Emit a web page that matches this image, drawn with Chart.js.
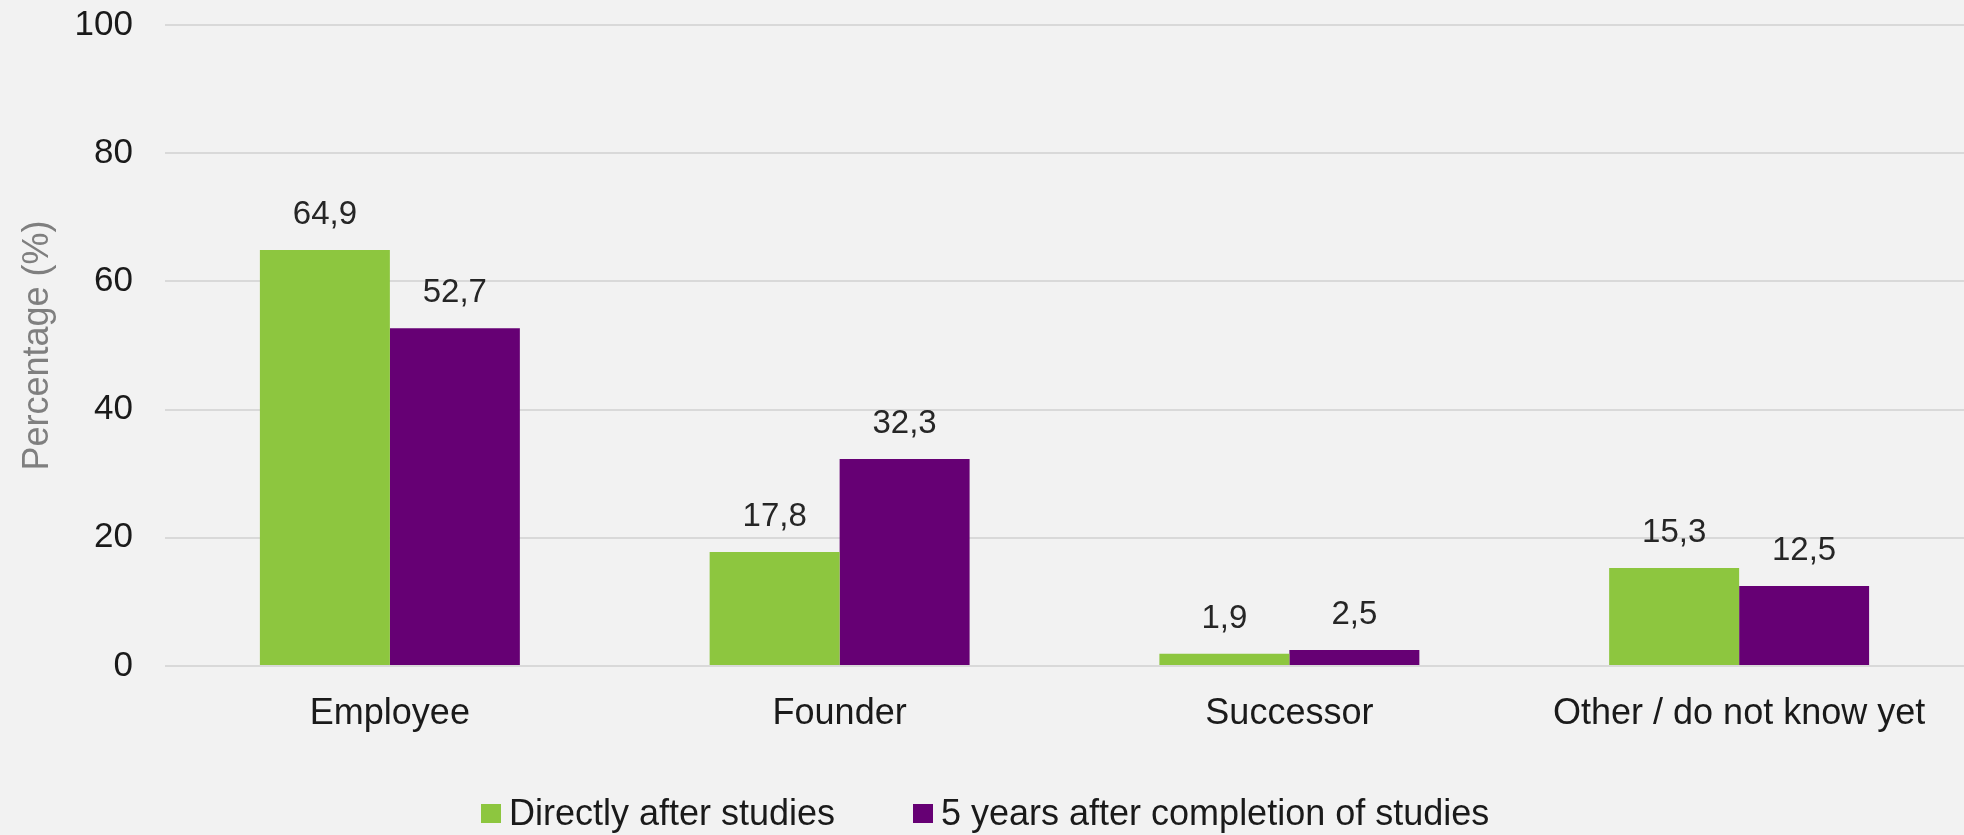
<!DOCTYPE html>
<html>
<head>
<meta charset="utf-8">
<script src="https://cdn.jsdelivr.net/npm/chart.js@4/dist/chart.umd.min.js"></script>
<style>
  html, body { margin: 0; padding: 0; background: #f2f2f2; }
  #wrap { width: 1964px; height: 835px; position: relative; }
</style>
</head>
<body>
<div id="wrap"><canvas id="c" width="1964" height="835"></canvas></div>
<script>
const categories = ["Employee", "Founder", "Successor", "Other / do not know yet"];
const seriesNames = ["Directly after studies", "5 years after completion of studies"];
const directlyAfter = [64.9, 17.8, 1.9, 15.3];
const fiveYearsAfter = [52.7, 32.3, 2.5, 12.5];
const yTicks = [0, 20, 40, 60, 80, 100];

const FONT = "'Liberation Sans', Arial, sans-serif";
const colors = ["#8dc63f", "#660074"];

const dataLabels = {
  id: 'dataLabels',
  afterDatasetsDraw(chart) {
    const ctx = chart.ctx;
    ctx.save();
    ctx.font = "33px " + FONT;
    ctx.fillStyle = "#262626";
    ctx.textAlign = "center";
    ctx.textBaseline = "alphabetic";
    chart.data.datasets.forEach((ds, i) => {
      const meta = chart.getDatasetMeta(i);
      meta.data.forEach((bar, j) => {
        const v = ds.data[j];
        ctx.fillText(v.toFixed(1).replace('.', ','), bar.x, bar.y - 26);
      });
    });
    ctx.restore();
  }
};

const customLegend = {
  id: 'customLegend',
  afterDraw(chart) {
    const ctx = chart.ctx;
    ctx.save();
    ctx.font = "36px " + FONT;
    ctx.textBaseline = "alphabetic";
    ctx.textAlign = "left";
    const boxX = [481, 913];
    chart.data.datasets.forEach((ds, i) => {
      ctx.fillStyle = ds.backgroundColor;
      ctx.fillRect(boxX[i], 804, 20, 19);
      ctx.fillStyle = "#1a1a1a";
      ctx.fillText(ds.label, boxX[i] + 28, 825);
    });
    ctx.restore();
  }
};

new Chart(document.getElementById('c'), {
  type: 'bar',
  data: {
    labels: categories,
    datasets: [
      { label: seriesNames[0], data: directlyAfter, backgroundColor: colors[0], borderWidth: 0 },
      { label: seriesNames[1], data: fiveYearsAfter, backgroundColor: colors[1], borderWidth: 0 }
    ]
  },
  options: {
    responsive: false,
    animation: false,
    devicePixelRatio: 1,
    layout: { padding: { top: 25, right: 0, bottom: 0, left: 0 } },
    datasets: { bar: { categoryPercentage: 0.578, barPercentage: 1.0 } },
    plugins: {
      legend: { display: false },
      tooltip: { enabled: false },
      title: { display: false }
    },
    scales: {
      x: {
        grid: { display: false, drawTicks: false },
        border: { display: false },
        ticks: { color: "#1a1a1a", font: { family: FONT, size: 36 }, padding: 26, maxRotation: 0, autoSkip: false },
        afterFit(scale) { scale.height = 169; }
      },
      y: {
        min: 0, max: 100,
        afterBuildTicks(scale) { scale.ticks = yTicks.map(v => ({ value: v })); },
        grid: { color: "#d9d9d9", lineWidth: 2, drawTicks: false },
        border: { display: false },
        ticks: { color: "#1a1a1a", font: { family: FONT, size: 35 }, padding: 32 },
        title: { display: true, text: "Percentage (%)", color: "#7f7f7f", font: { family: FONT, size: 36 }, padding: { top: 16, bottom: 0 } },
        afterFit(scale) { scale.width = 165; scale.paddingTop = 0; scale.paddingBottom = 0; }
      }
    }
  },
  plugins: [dataLabels, customLegend]
});
</script>
</body>
</html>
